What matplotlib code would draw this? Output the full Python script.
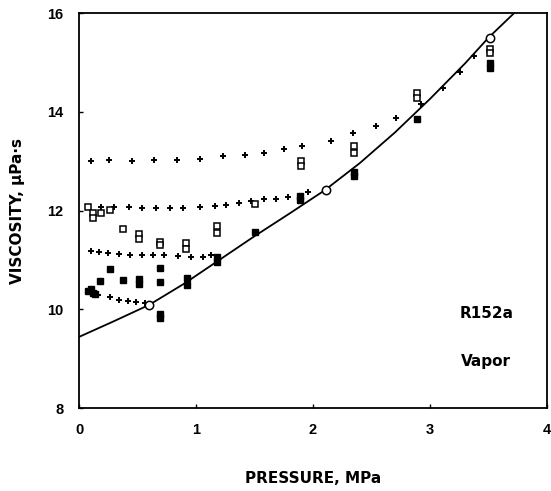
"""
R152a vapor viscosity vs pressure
"""
import matplotlib
matplotlib.use("Agg")
import matplotlib.pyplot as plt

# ============================================================
# DATA
# ============================================================
# isotherm-like rows (+ markers)
plus_a_x = [0.10, 0.26, 0.45, 0.64, 0.84, 1.03, 1.23, 1.42, 1.58, 1.75,
            1.91, 2.15, 2.34, 2.54, 2.71, 2.92, 3.11, 3.26, 3.38]
plus_a_y = [13.00, 13.02, 13.00, 13.02, 13.03, 13.05, 13.10, 13.12, 13.17, 13.24,
            13.30, 13.41, 13.57, 13.71, 13.87, 14.15, 14.49, 14.80, 15.13]

plus_b_x = [0.19, 0.30, 0.43, 0.54, 0.66, 0.78, 0.89, 1.03, 1.16, 1.26,
            1.37, 1.47, 1.58, 1.68, 1.79, 1.96]
plus_b_y = [12.07, 12.07, 12.07, 12.05, 12.06, 12.05, 12.05, 12.07, 12.09, 12.12,
            12.16, 12.20, 12.23, 12.23, 12.28, 12.37]

plus_c_x = [0.10, 0.17, 0.25, 0.34, 0.44, 0.54, 0.63, 0.73, 0.85, 0.96, 1.06, 1.13]
plus_c_y = [11.18, 11.16, 11.14, 11.12, 11.10, 11.10, 11.10, 11.10, 11.08, 11.05, 11.05, 11.10]

plus_d_x = [0.11, 0.165, 0.265, 0.345, 0.42, 0.49, 0.56]
plus_d_y = [10.30, 10.29, 10.24, 10.19, 10.17, 10.14, 10.13]

# open squares
open_sq_x = [0.08, 0.12, 0.12, 0.185, 0.265, 0.38, 0.515, 0.515, 0.69, 0.69,
             0.915, 0.915, 1.18, 1.18, 1.50, 1.90, 1.90, 2.35, 2.35, 2.89,
             2.89, 3.51, 3.51]
open_sq_y = [12.08, 11.94, 11.84, 11.95, 12.02, 11.62, 11.52, 11.42, 11.37, 11.30,
             11.35, 11.23, 11.69, 11.54, 12.13, 13.00, 12.90, 13.30, 13.17, 14.38,
             14.28, 15.28, 15.20]

# filled squares
fill_sq_x = [0.08, 0.10, 0.12, 0.14, 0.18, 0.265, 0.38, 0.515, 0.515, 0.69,
             0.69, 0.69, 0.69, 0.92, 0.92, 1.18, 1.18, 1.50, 1.89, 1.89,
             2.35, 2.35, 2.89, 3.51, 3.51]
fill_sq_y = [10.38, 10.42, 10.32, 10.30, 10.58, 10.81, 10.59, 10.62, 10.52, 10.84,
             10.56, 9.90, 9.82, 10.64, 10.49, 11.05, 10.95, 11.57, 12.30, 12.22,
             12.78, 12.70, 13.85, 14.98, 14.88]

# saturation points (open circles)
circ_x = [0.60, 2.11, 3.51]
circ_y = [10.09, 12.42, 15.50]

# saturated vapor curve
curve_x = [0.0, 0.3, 0.6, 0.9, 1.2, 1.5, 1.8, 2.1, 2.4, 2.7, 3.0, 3.3, 3.5, 3.72]
curve_y = [9.44, 9.76, 10.09, 10.52, 11.00, 11.48, 11.94, 12.41, 12.96, 13.58,
           14.26, 14.98, 15.50, 16.00]

x_ticks = [0, 1, 2, 3, 4]
y_ticks = [8, 10, 12, 14, 16]
# ============================================================

plt.rcParams["font.family"] = ["Liberation Sans", "DejaVu Sans"]
WIDE = ["DejaVu Sans"]

fig = plt.figure(figsize=(5.51, 4.91), dpi=100)
ax = fig.add_axes([0.1434, 0.169, 0.8493, 0.8045])

ax.plot(curve_x, curve_y, color="black", linewidth=1.3, zorder=2)

for xs, ys in [(plus_a_x, plus_a_y), (plus_b_x, plus_b_y),
               (plus_c_x, plus_c_y), (plus_d_x, plus_d_y)]:
    ax.plot(xs, ys, linestyle="none", marker="+", markersize=5,
            markeredgewidth=1.4, color="black", zorder=3)

ax.plot(open_sq_x, open_sq_y, linestyle="none", marker="s", markersize=4.2,
        markerfacecolor="white", markeredgecolor="black", markeredgewidth=1.1, zorder=4)
ax.plot(fill_sq_x, fill_sq_y, linestyle="none", marker="s", markersize=4.5,
        color="black", zorder=4)
ax.plot(circ_x, circ_y, linestyle="none", marker="o", markersize=6,
        markerfacecolor="white", markeredgecolor="black", markeredgewidth=1.1, zorder=5)

ax.set_xlim(0, 4)
ax.set_ylim(8, 16)
ax.set_xticks(x_ticks)
ax.set_yticks(y_ticks)
ax.tick_params(direction="in", length=3, width=1, labelsize=10.5, pad=11)
for lab in ax.get_xticklabels() + ax.get_yticklabels():
    lab.set_fontweight("bold")
for sp in ax.spines.values():
    sp.set_linewidth(1.3)

ax.set_xlabel("PRESSURE, MPa", fontsize=11, fontweight="bold", family=WIDE, labelpad=24)
ax.set_ylabel("VISCOSITY, \u00b5Pa\u00b7s", fontsize=11, fontweight="bold", family=WIDE, labelpad=16)

ax.text(3.48, 9.92, "R152a", ha="center", va="center", fontsize=11,
        fontweight="bold", family=WIDE)
ax.text(3.48, 8.94, "Vapor", ha="center", va="center", fontsize=11,
        fontweight="bold", family=WIDE)

fig.savefig("out.png", dpi=100)
